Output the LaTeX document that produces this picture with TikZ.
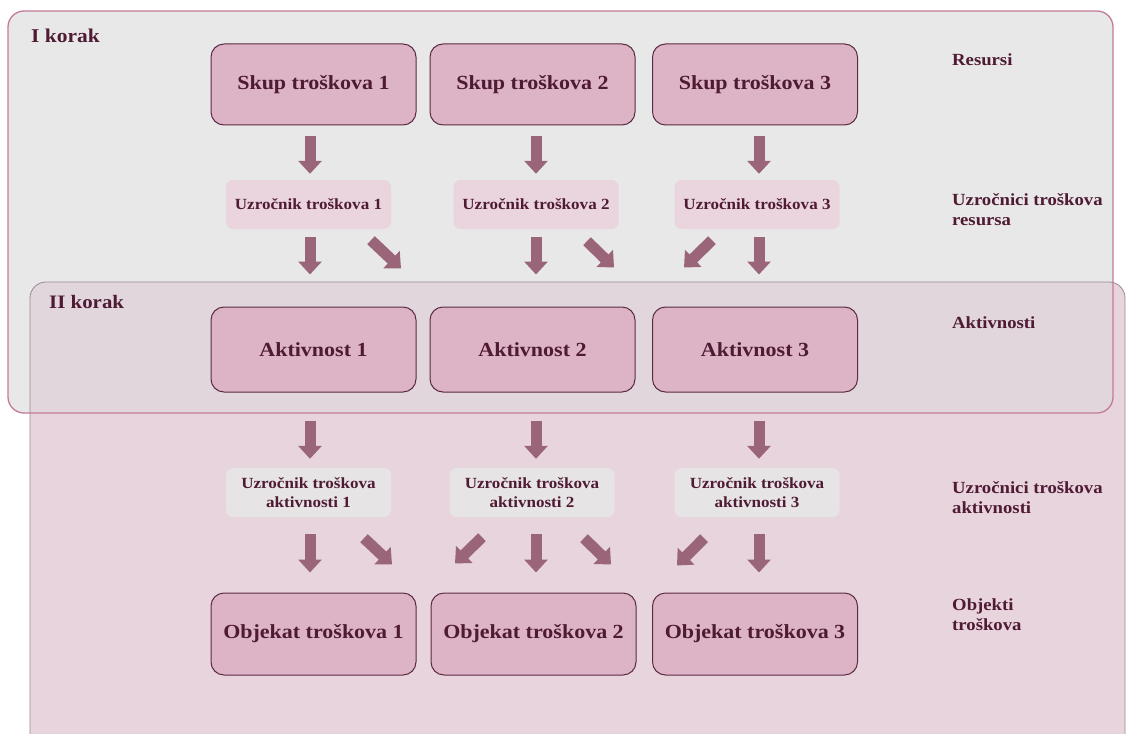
\documentclass[tikz,border=0pt]{standalone}
\usepackage{fontspec}
\setmainfont[FakeStretch=1.1]{Liberation Serif}
\usetikzlibrary{arrows.meta,calc}

\definecolor{stepgray}{HTML}{E8E8E8}
\definecolor{steppink}{HTML}{E8D4DD}
\definecolor{stepmix}{HTML}{E0D6DB}
\definecolor{rimpink}{HTML}{C47A9A}
\definecolor{rimgray}{HTML}{9A8A94}
\definecolor{boxfill}{HTML}{DCB4C6}
\definecolor{boxrim}{HTML}{5C2A42}
\definecolor{drvpink}{HTML}{EAD5DE}
\definecolor{drvgray}{HTML}{E6E4E5}
\definecolor{ink}{HTML}{4F1A33}
\definecolor{arrowc}{HTML}{9B6579}

\tikzset{
  mainbox/.style={draw=boxrim, line width=1pt, fill=boxfill, rounded corners=13pt,
    minimum width=205pt, minimum height=81pt, text=ink,
    font=\bfseries\fontsize{20}{23}\selectfont},
  drvbox/.style={fill=drvpink, rounded corners=7pt, minimum width=165pt,
    minimum height=49pt, text=ink, align=center,
    font=\bfseries\fontsize{15.5}{19}\selectfont},
  actdrv/.style={drvbox, fill=drvgray},
  sidelabel/.style={anchor=west, text=ink, align=left, inner sep=0pt,
    font=\bfseries\fontsize{17}{20}\selectfont},
  steplabel/.style={anchor=west, text=ink, inner sep=0pt,
    font=\bfseries\fontsize{19.5}{24}\selectfont},
  blk/.style={draw=arrowc, line width=11pt,
    -{Triangle[width=23pt,length=13pt,fill=arrowc]}},
}

\begin{document}
\begin{tikzpicture}[x=1pt,y=-1pt]
\useasboundingbox (0,0) rectangle (1126,733);

% step panels
\def\stepone{(8,11) [rounded corners=16pt] rectangle (1113,413)}
\def\steptwo{(30,282) [rounded corners=16pt] rectangle (1125,770)}
\begin{scope}
  \clip (0,0) rectangle (1126,733);
  \fill[stepgray] \stepone;
  \fill[steppink] \steptwo;
  \begin{scope}
    \clip \stepone;
    \fill[stepmix] \steptwo;
  \end{scope}
  \draw[rimgray, line width=0.8pt] \steptwo;
  \draw[rimpink, line width=1.3pt] \stepone;
\end{scope}

\node[steplabel] (k1) at (31,36) {I korak};
\node[steplabel, font=\bfseries\fontsize{19}{24}\selectfont] (k2) at (49,302) {II korak};

% resources
\node[mainbox] (s1) at (313.5,84.5) {Skup troškova 1};
\node[mainbox] (s2) at (532.5,84.5) {Skup troškova 2};
\node[mainbox] (s3) at (755,84.5) {Skup troškova 3};

% resource cost drivers
\node[drvbox] (u1) at (308.5,204.5) {Uzročnik troškova 1};
\node[drvbox] (u2) at (536,204.5) {Uzročnik troškova 2};
\node[drvbox] (u3) at (757,204.5) {Uzročnik troškova 3};

% activities
\node[mainbox, minimum height=85pt] (a1) at (313.5,349.5) {Aktivnost 1};
\node[mainbox, minimum height=85pt] (a2) at (532.5,349.5) {Aktivnost 2};
\node[mainbox, minimum height=85pt] (a3) at (755,349.5) {Aktivnost 3};

% activity cost drivers
\node[actdrv] (v1) at (308.5,492.5) {Uzročnik troškova\\aktivnosti 1};
\node[actdrv] (v2) at (532,492.5) {Uzročnik troškova\\aktivnosti 2};
\node[actdrv] (v3) at (757,492.5) {Uzročnik troškova\\aktivnosti 3};

% cost objects
\node[mainbox, minimum height=82pt] (o1) at (313.5,634) {Objekat troškova 1};
\node[mainbox, minimum height=82pt] (o2) at (533.5,634) {Objekat troškova 2};
\node[mainbox, minimum height=82pt] (o3) at (755,634) {Objekat troškova 3};

% level captions
\node[sidelabel] (l1) at (952,60) {Resursi};
\node[sidelabel] (l2) at (952,210) {Uzročnici troškova\\resursa};
\node[sidelabel] (l3) at (952,323) {Aktivnosti};
\node[sidelabel] (l4) at (952,498) {Uzročnici troškova\\aktivnosti};
\node[sidelabel] (l5) at (952,615) {Objekti\\troškova};

% resources -> resource drivers
\draw[blk] ($(s1.south)+(-3.5,10)$) -- ($(u1.north)+(1.5,-6)$);
\draw[blk] ($(s2.south)+(3.5,10)$) -- ($(u2.north)+(0,-6)$);
\draw[blk] ($(s3.south)+(4,10)$) -- ($(u3.north)+(2,-6)$);

% resource drivers -> activities
\draw[blk] ($(u1.south)+(1.5,8)$) -- ($(a1.north)+(-3.5,-32)$);
\draw[blk] ($(u2.south)+(0,8)$) -- ($(a2.north)+(3.5,-32)$);
\draw[blk] ($(u3.south)+(2,8)$) -- ($(a3.north)+(4,-32)$);
\draw[blk] ($(u1.south)+(62.5,11)$) -- ($(a2.north)+(-131.5,-38)$);
\draw[blk] ($(u2.south)+(51,12)$) -- ($(a3.north)+(-141,-39)$);
\draw[blk] ($(u3.south)+(-45,11)$) -- ($(a2.north)+(151.5,-39)$);

% activities -> activity drivers
\draw[blk] ($(a1.south)+(-3.5,28)$) -- ($(v1.north)+(1.5,-9)$);
\draw[blk] ($(a2.south)+(3.5,28)$) -- ($(v2.north)+(4,-9)$);
\draw[blk] ($(a3.south)+(4,28)$) -- ($(v3.north)+(2,-9)$);

% activity drivers -> cost objects
\draw[blk] ($(v1.south)+(1.5,17)$) -- ($(o1.north)+(-3.5,-20)$);
\draw[blk] ($(v2.south)+(4,17)$) -- ($(o2.north)+(2.5,-20)$);
\draw[blk] ($(v3.south)+(2,17)$) -- ($(o3.north)+(4,-20)$);
\draw[blk] ($(v1.south)+(55.5,21)$) -- ($(o2.north)+(-141.5,-28)$);
\draw[blk] ($(v2.south)+(-50,20)$) -- ($(o1.north)+(141.5,-29)$);
\draw[blk] ($(v2.south)+(52,21)$) -- ($(o3.north)+(-144,-28)$);
\draw[blk] ($(v3.south)+(-53,21)$) -- ($(o2.north)+(143.5,-27)$);
\end{tikzpicture}
\end{document}
